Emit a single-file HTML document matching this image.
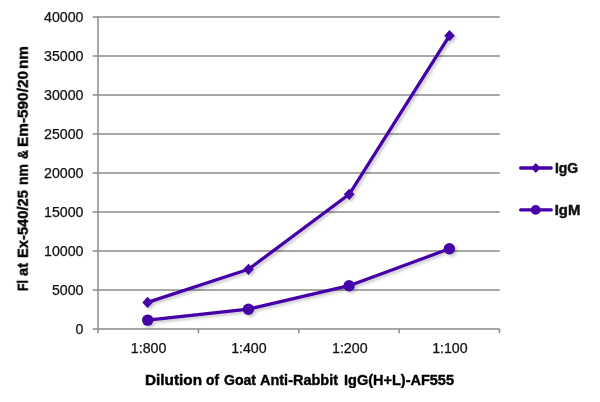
<!DOCTYPE html>
<html><head><meta charset="utf-8"><style>
html,body{margin:0;padding:0;background:#fff;}
svg{display:block;}
text{will-change:transform;}
text{font-family:"Liberation Sans",Arial,sans-serif;fill:#111;stroke:#111;stroke-width:0.25px;}
.b{font-weight:bold;stroke-width:0.5px;}
.t{stroke-width:0.4px;fill:#000;stroke:#000;}
</style></head><body>
<svg width="600" height="402" viewBox="0 0 600 402">
<defs>
<filter id="sh" x="-20%" y="-20%" width="140%" height="140%">
<feGaussianBlur in="SourceAlpha" stdDeviation="1.5"/>
<feOffset dx="1.6" dy="1.8" result="o"/>
<feComponentTransfer><feFuncA type="linear" slope="0.22"/></feComponentTransfer>
<feMerge><feMergeNode/><feMergeNode in="SourceGraphic"/></feMerge>
</filter>
</defs>
<rect width="600" height="402" fill="#fff"/>

<line x1="92.6" y1="17.00" x2="499.7" y2="17.00" stroke="#8a8a8a" stroke-width="1.5"/>
<line x1="92.6" y1="56.00" x2="499.7" y2="56.00" stroke="#8a8a8a" stroke-width="1.5"/>
<line x1="92.6" y1="95.00" x2="499.7" y2="95.00" stroke="#8a8a8a" stroke-width="1.5"/>
<line x1="92.6" y1="134.00" x2="499.7" y2="134.00" stroke="#8a8a8a" stroke-width="1.5"/>
<line x1="92.6" y1="173.00" x2="499.7" y2="173.00" stroke="#8a8a8a" stroke-width="1.5"/>
<line x1="92.6" y1="212.00" x2="499.7" y2="212.00" stroke="#8a8a8a" stroke-width="1.5"/>
<line x1="92.6" y1="251.00" x2="499.7" y2="251.00" stroke="#8a8a8a" stroke-width="1.5"/>
<line x1="92.6" y1="290.00" x2="499.7" y2="290.00" stroke="#8a8a8a" stroke-width="1.5"/>
<line x1="92.6" y1="329.00" x2="499.7" y2="329.00" stroke="#8a8a8a" stroke-width="1.5"/>
<line x1="98" y1="16.25" x2="98" y2="333.2" stroke="#8a8a8a" stroke-width="1.5"/>
<line x1="198.4" y1="329" x2="198.4" y2="333.2" stroke="#8a8a8a" stroke-width="1.5"/>
<line x1="298.8" y1="329" x2="298.8" y2="333.2" stroke="#8a8a8a" stroke-width="1.5"/>
<line x1="399.1" y1="329" x2="399.1" y2="333.2" stroke="#8a8a8a" stroke-width="1.5"/>
<line x1="499.5" y1="329" x2="499.5" y2="333.2" stroke="#8a8a8a" stroke-width="1.5"/>
<text x="83.5" y="21.70" font-size="14.2" text-anchor="end">40000</text>
<text x="83.5" y="60.70" font-size="14.2" text-anchor="end">35000</text>
<text x="83.5" y="99.70" font-size="14.2" text-anchor="end">30000</text>
<text x="83.5" y="138.70" font-size="14.2" text-anchor="end">25000</text>
<text x="83.5" y="177.70" font-size="14.2" text-anchor="end">20000</text>
<text x="83.5" y="216.70" font-size="14.2" text-anchor="end">15000</text>
<text x="83.5" y="255.70" font-size="14.2" text-anchor="end">10000</text>
<text x="83.5" y="294.70" font-size="14.2" text-anchor="end">5000</text>
<text x="83.5" y="333.70" font-size="14.2" text-anchor="end">0</text>
<text x="148.6" y="353.2" font-size="14.2" text-anchor="middle">1:800</text>
<text x="248.9" y="353.2" font-size="14.2" text-anchor="middle">1:400</text>
<text x="349.8" y="353.2" font-size="14.2" text-anchor="middle">1:200</text>
<text x="449.9" y="353.2" font-size="14.2" text-anchor="middle">1:100</text>
<g filter="url(#sh)">
<polyline points="147.6,302.4 248.5,269.3 349.2,194.3 449.5,35.7" fill="none" stroke="#4502a8" stroke-width="3.3" stroke-linejoin="round" stroke-linecap="round"/>
<path d="M147.6,296.79999999999995 L152.9,302.4 L147.6,308.0 L142.29999999999998,302.4 Z" fill="#4502a8"/>
<path d="M248.5,263.7 L253.8,269.3 L248.5,274.90000000000003 L243.2,269.3 Z" fill="#4502a8"/>
<path d="M349.2,188.70000000000002 L354.5,194.3 L349.2,199.9 L343.9,194.3 Z" fill="#4502a8"/>
<path d="M449.5,30.1 L454.8,35.7 L449.5,41.300000000000004 L444.2,35.7 Z" fill="#4502a8"/>
<polyline points="147.7,320.1 248.4,309.2 349.1,285.7 449.4,248.7" fill="none" stroke="#4502a8" stroke-width="3.3" stroke-linejoin="round" stroke-linecap="round"/>
<circle cx="147.7" cy="320.1" r="5.7" fill="#4502a8"/>
<circle cx="248.4" cy="309.2" r="5.7" fill="#4502a8"/>
<circle cx="349.1" cy="285.7" r="5.7" fill="#4502a8"/>
<circle cx="449.4" cy="248.7" r="5.7" fill="#4502a8"/>
</g>
<line x1="520.7" y1="168" x2="551.2" y2="168" stroke="#4502a8" stroke-width="3.4" stroke-linecap="round"/>
<path d="M535.8,163 L540.4,168 L535.8,173 L531.2,168 Z" fill="#4502a8"/>
<line x1="520.7" y1="209.9" x2="551.2" y2="209.9" stroke="#4502a8" stroke-width="3.4" stroke-linecap="round"/>
<circle cx="535.7" cy="209.9" r="4.9" fill="#4502a8"/>
<text class="b" x="555" y="172.8" font-size="14.9" textLength="23.2" lengthAdjust="spacingAndGlyphs">IgG</text>
<text class="b" x="554.7" y="214.7" font-size="14.9" textLength="25.6" lengthAdjust="spacingAndGlyphs">IgM</text>
<text class="b t" x="145.00" y="384.6" font-size="14.2" textLength="57.00" lengthAdjust="spacingAndGlyphs">Dilution</text>
<text class="b t" x="206.00" y="384.6" font-size="14.2" textLength="13.00" lengthAdjust="spacingAndGlyphs">of</text>
<text class="b t" x="224.00" y="384.6" font-size="14.2" textLength="32.00" lengthAdjust="spacingAndGlyphs">Goat</text>
<text class="b t" x="260.00" y="384.6" font-size="14.2" textLength="78.00" lengthAdjust="spacingAndGlyphs">Anti-Rabbit</text>
<text class="b t" x="344.00" y="384.6" font-size="14.2" textLength="110.00" lengthAdjust="spacingAndGlyphs">IgG(H+L)-AF555</text>
<text class="b t" transform="translate(27.8,291.00) rotate(-90)" x="0" y="0" font-size="15" textLength="11.00" lengthAdjust="spacingAndGlyphs">Fl</text>
<text class="b t" transform="translate(27.8,276.00) rotate(-90)" x="0" y="0" font-size="15" textLength="13.00" lengthAdjust="spacingAndGlyphs">at</text>
<text class="b t" transform="translate(27.8,258.00) rotate(-90)" x="0" y="0" font-size="15" textLength="68.00" lengthAdjust="spacingAndGlyphs">Ex-540/25</text>
<text class="b t" transform="translate(27.8,185.00) rotate(-90)" x="0" y="0" font-size="15" textLength="21.00" lengthAdjust="spacingAndGlyphs">nm</text>
<text class="b t" transform="translate(27.8,159.00) rotate(-90)" x="0" y="0" font-size="15" textLength="9.00" lengthAdjust="spacingAndGlyphs">&amp;</text>
<text class="b t" transform="translate(27.8,147.00) rotate(-90)" x="0" y="0" font-size="15" textLength="76.00" lengthAdjust="spacingAndGlyphs">Em-590/20</text>
<text class="b t" transform="translate(27.8,69.00) rotate(-90)" x="0" y="0" font-size="15" textLength="23.00" lengthAdjust="spacingAndGlyphs">nm</text>
</svg></body></html>
